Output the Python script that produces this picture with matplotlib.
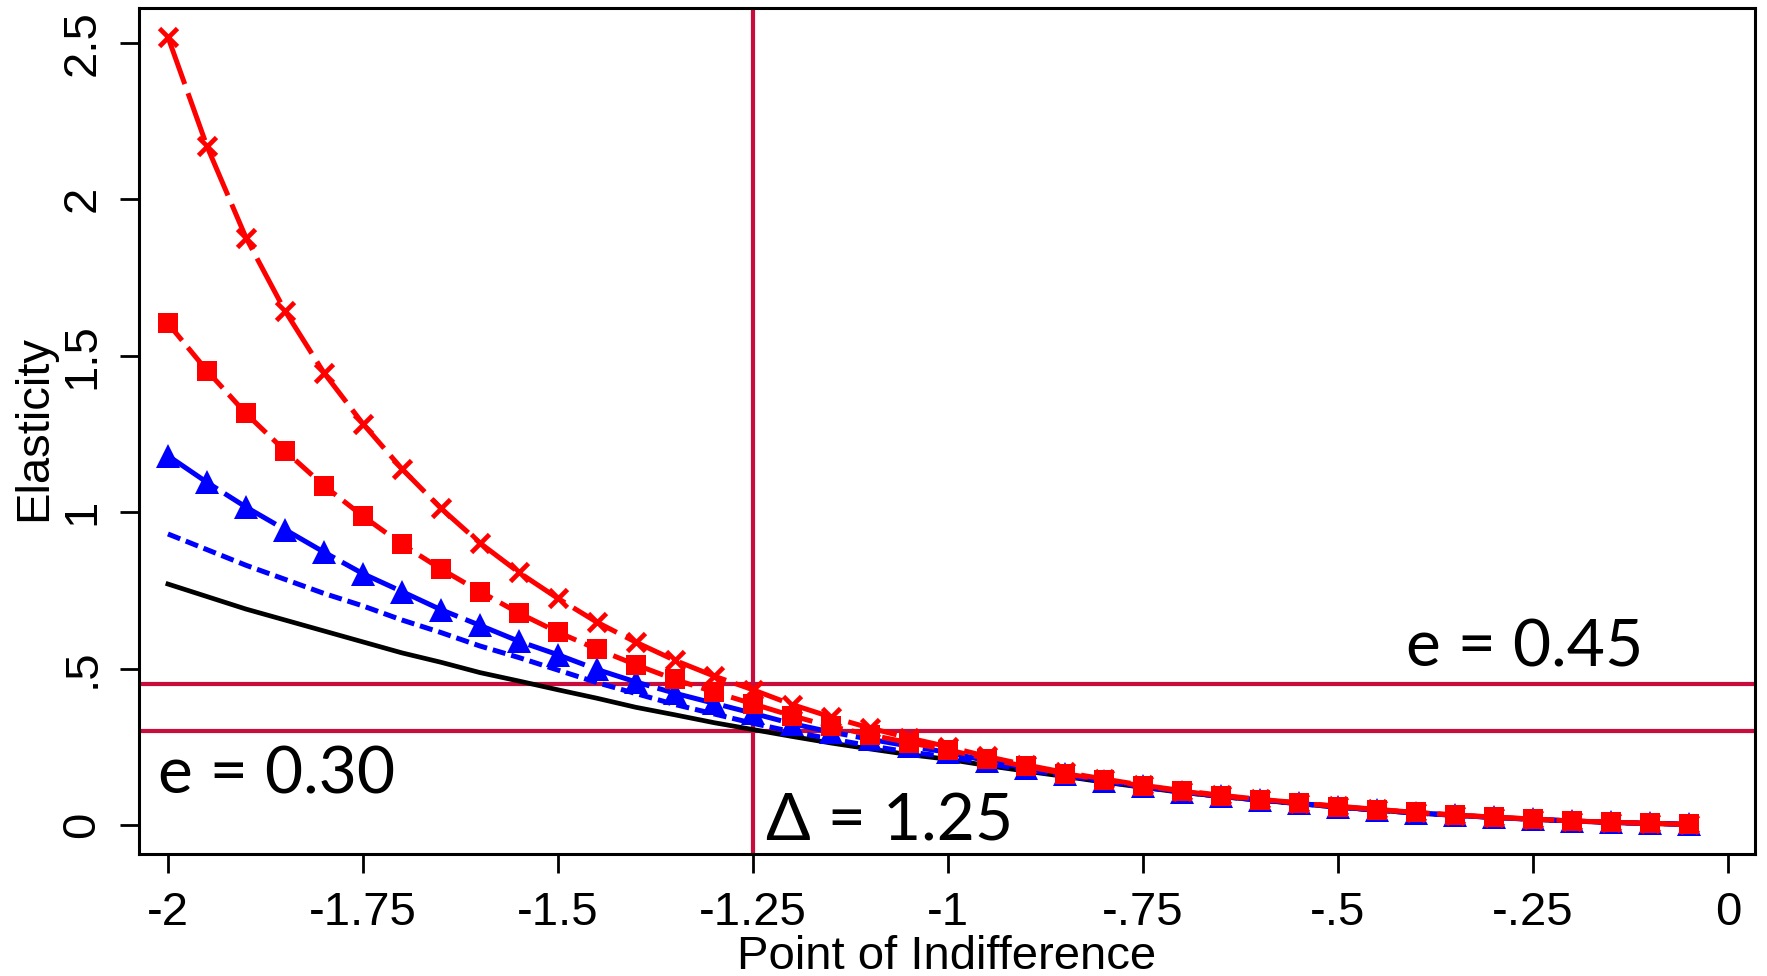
import matplotlib
matplotlib.use("Agg")
import matplotlib.pyplot as plt
import numpy as np

plt.rcParams['font.family'] = ['Liberation Sans', 'DejaVu Sans']
plt.rcParams['lines.scale_dashes'] = False

x = [-2.0, -1.95, -1.9, -1.85, -1.8, -1.75, -1.7, -1.65, -1.6, -1.55,
     -1.5, -1.45, -1.4, -1.35, -1.3, -1.25, -1.2, -1.15, -1.1, -1.05,
     -1.0, -0.95, -0.9, -0.85, -0.8, -0.75, -0.7, -0.65, -0.6, -0.55,
     -0.5, -0.45, -0.4, -0.35, -0.3, -0.25, -0.2, -0.15, -0.1, -0.05]

tail_black = [0.210, 0.190, 0.172, 0.155, 0.137, 0.120, 0.104, 0.091, 0.079, 0.068,
              0.057, 0.047, 0.038, 0.031, 0.024, 0.018, 0.013, 0.008, 0.005, 0.002]

black = [0.770, 0.730, 0.690, 0.655, 0.620, 0.585, 0.550, 0.520, 0.487, 0.460,
         0.432, 0.405, 0.376, 0.352, 0.327, 0.305, 0.283, 0.262, 0.243, 0.225] + tail_black

blue_dash = [0.930, 0.880, 0.830, 0.785, 0.740, 0.700, 0.655, 0.615, 0.572, 0.535,
             0.495, 0.455, 0.420, 0.385, 0.355, 0.325, 0.298, 0.275, 0.253, 0.233,
             0.218, 0.196, 0.176, 0.158, 0.139, 0.121, 0.105, 0.091, 0.079, 0.068,
             0.057, 0.047, 0.038, 0.031, 0.024, 0.018, 0.013, 0.008, 0.005, 0.002]

blue_tri = [1.180, 1.095, 1.016, 0.944, 0.872, 0.803, 0.746, 0.688, 0.638, 0.587,
            0.544, 0.497, 0.457, 0.421, 0.389, 0.357, 0.324, 0.297, 0.274, 0.252,
            0.232, 0.205, 0.183, 0.162, 0.142, 0.123, 0.106, 0.092, 0.080, 0.069,
            0.058, 0.048, 0.039, 0.031, 0.024, 0.018, 0.013, 0.008, 0.005, 0.002]

red_sq = [1.603, 1.452, 1.315, 1.196, 1.084, 0.987, 0.897, 0.818, 0.746, 0.677,
          0.616, 0.562, 0.512, 0.465, 0.425, 0.387, 0.349, 0.315, 0.288, 0.263,
          0.240, 0.212, 0.187, 0.164, 0.144, 0.125, 0.108, 0.093, 0.081, 0.070,
          0.059, 0.049, 0.040, 0.032, 0.025, 0.019, 0.013, 0.009, 0.005, 0.002]

red_x = [2.518, 2.169, 1.877, 1.643, 1.445, 1.282, 1.138, 1.012, 0.901, 0.807,
         0.724, 0.648, 0.584, 0.526, 0.476, 0.432, 0.385, 0.345, 0.310, 0.278,
         0.250, 0.219, 0.192, 0.168, 0.147, 0.127, 0.110, 0.095, 0.082, 0.071,
         0.060, 0.050, 0.040, 0.032, 0.025, 0.019, 0.013, 0.009, 0.005, 0.002]

xticks = [-2, -1.75, -1.5, -1.25, -1, -0.75, -0.5, -0.25, 0]
xticklabels = ['-2', '-1.75', '-1.5', '-1.25', '-1', '-.75', '-.5', '-.25', '0']
yticks = [0, 0.5, 1, 1.5, 2, 2.5]
yticklabels = ['0', '.5', '1', '1.5', '2', '2.5']

ref_x = -1.25
ref_y = [0.45, 0.30]
annotations = [(-0.413, 0.505, 'e = 0.45'), (-2.013, 0.102, 'e = 0.30'), (-1.233, -0.051, 'Δ = 1.25')]

ref_color = '#C80C3C'

fig = plt.figure(figsize=(17.67, 9.76), dpi=100)
ax = fig.add_axes([0.0784, 0.125, 0.9148, 0.8669])

ax.plot(x, black, color='black', lw=3.4, ls='-', zorder=3)
ax.plot(x, blue_dash, color='blue', lw=3.6, ls=(0, (9.5, 4.3)), zorder=3)
ax.plot(x, blue_tri, color='blue', lw=3.6, ls=(0, (43, 6)), marker='^', ms=17.5, mew=0, zorder=4)
ax.plot(x, red_x, color='red', lw=3.6, ls=(0, (36, 7)), marker='x', ms=13.5, mew=3.4, zorder=5)
ax.plot(x, red_sq, color='red', lw=3.6, ls=(0, (16, 6.5)), marker='s', ms=15, mew=0, zorder=6)

ax.axvline(ref_x, color=ref_color, lw=3.0, zorder=2)
for yv in ref_y:
    ax.axhline(yv, color=ref_color, lw=3.0, zorder=2)

for ax_x, ax_y, txt in annotations:
    ax.text(ax_x, ax_y, txt, fontsize=47.5, family=['Lato', 'DejaVu Sans'],
            ha='left', va='baseline', zorder=7)

ax.set_xlim(-2.0377, 0.0346)
ax.set_ylim(-0.0927, 2.611)
ax.set_xticks(xticks)
ax.set_xticklabels(xticklabels)
ax.set_yticks(yticks)
ax.set_yticklabels(yticklabels, rotation=90, va='center')
ax.tick_params(axis='both', direction='out', length=13.7, width=2, labelsize=34)
ax.tick_params(axis='x', pad=13)
ax.tick_params(axis='y', pad=11)
for sp in ax.spines.values():
    sp.set_linewidth(2.2)

ax.set_xlabel('Point of Indifference', fontsize=34)
ax.set_ylabel('Elasticity', fontsize=34)
ax.xaxis.set_label_coords(0.5, -0.122)
ax.yaxis.set_label_coords(-0.0647, 0.5035)
ax.xaxis.label.set_va('center')
ax.yaxis.label.set_va('center')

fig.savefig('out.png', dpi=100)
